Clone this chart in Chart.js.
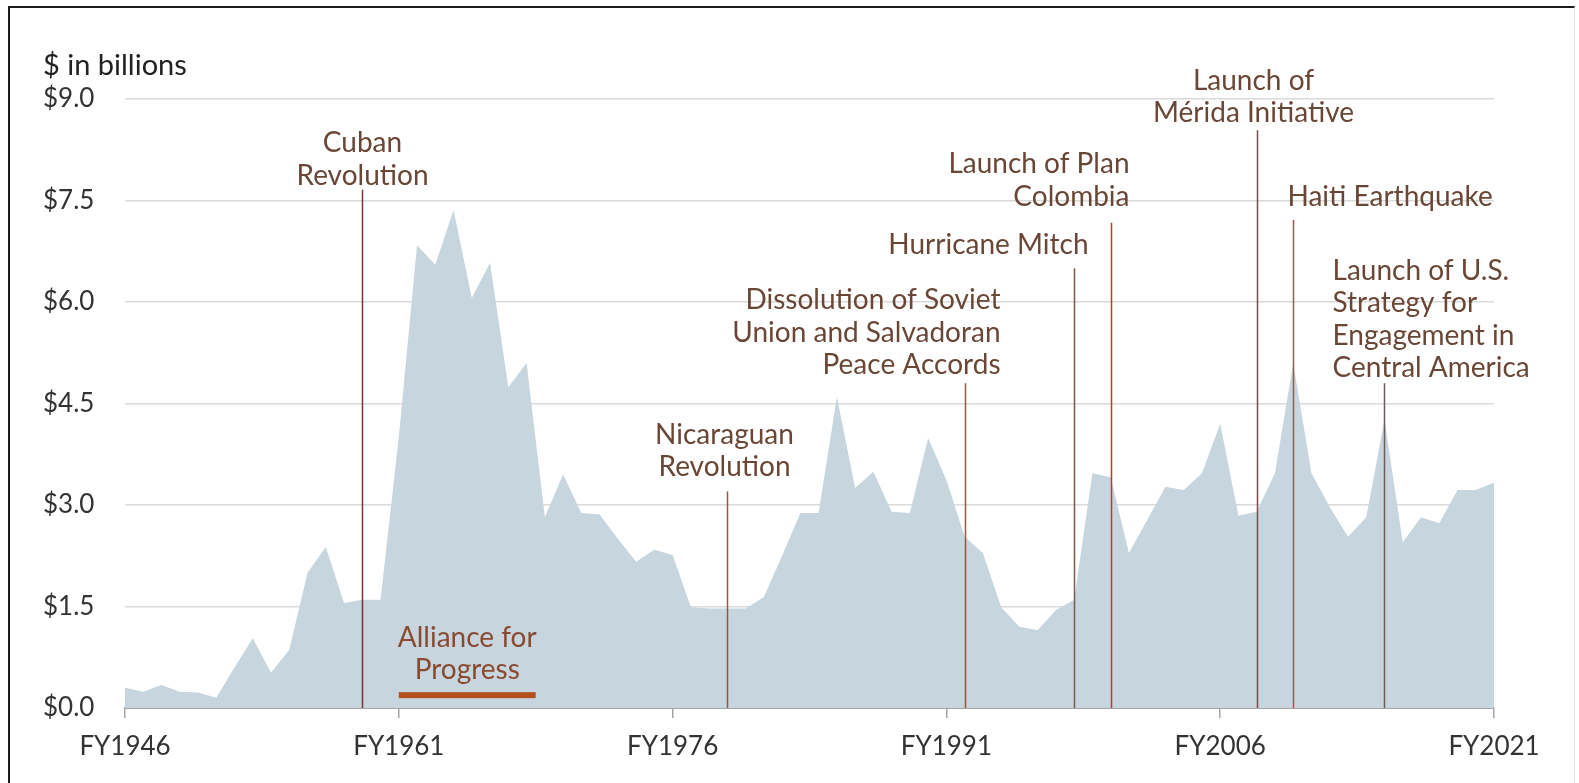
<!DOCTYPE html>
<html lang="en">

<head>
    <meta charset="UTF-8" />
    <title>Foreign assistance to Latin America</title>
    <script src="https://cdn.jsdelivr.net/npm/chart.js"></script>
    <style>
        body {
            margin: 0;
            padding: 0;
            background: #fff;
            font-family: "Lato", sans-serif;
        }

        .frame {
            position: absolute;
            left: 8px;
            top: 6px;
            width: 1564px;
            height: 775px;
            border-left: 2px solid #1c1c1c;
            border-top: 2px solid #1c1c1c;
            border-right: 1px solid #e2e2e2;
            border-bottom: 1px solid #e2e2e2;
        }

        .chart-container {
            position: absolute;
            left: 0;
            top: 0;
            width: 1579px;
            height: 783px;
        }
    </style>
</head>

<body>
    <div class="frame"></div>
    <div class="chart-container">
        <canvas id="myChart"></canvas>
    </div>

    <script>
        // fiscal years and assistance ($ billions)
        const years = [];
        for (let y = 1946; y <= 2021; y++) years.push(y);

        const aid = [
            0.30, 0.24, 0.34, 0.24, 0.23, 0.15, 0.60, 1.03, 0.52, 0.86, // 1946-1955
            2.00, 2.38, 1.55, 1.60, 1.60, 4.00, 6.84, 6.55, 7.36, 6.06, // 1956-1965
            6.58, 4.74, 5.10, 2.82, 3.45, 2.88, 2.86, 2.50, 2.16, 2.34, // 1966-1975
            2.26, 1.49, 1.47, 1.47, 1.47, 1.64, 2.25, 2.88, 2.88, 4.60, // 1976-1985
            3.25, 3.49, 2.90, 2.88, 3.99, 3.37, 2.53, 2.29, 1.49, 1.20, // 1986-1995
            1.15, 1.45, 1.60, 3.47, 3.41, 2.29, 2.78, 3.27, 3.22, 3.47, // 1996-2005
            4.20, 2.84, 2.90, 3.47, 5.10, 3.47, 2.97, 2.53, 2.82, 4.26, // 2006-2015
            2.45, 2.82, 2.73, 3.22, 3.22, 3.33                          // 2016-2021
        ];

        const labeledYears = [1946, 1961, 1976, 1991, 2006, 2021];
        const yTicks = [0, 1.5, 3, 4.5, 6, 7.5, 9];

        // events: year of the marker line, value where the line stops, label text
        const eventYears = [1959, 1979, 1992, 1998, 2000, 2008, 2010, 2015];
        const eventTops = [7.66, 3.2, 4.8, 6.5, 7.17, 8.54, 7.21, 4.8];
        const eventLabels = [
            ["Cuban", "Revolution"],
            ["Nicaraguan", "Revolution"],
            ["Dissolution of Soviet", "Union and Salvadoran", "Peace Accords"],
            ["Hurricane Mitch"],
            ["Launch of Plan", "Colombia"],
            ["Launch of", "Mérida Initiative"],
            ["Haiti Earthquake"],
            ["Launch of U.S.", "Strategy for", "Engagement in", "Central America"]
        ];

        // Alliance for Progress span
        const allianceSpan = [1961, 1968.5];
        const allianceLevel = 0.19;
        const allianceLabel = ["Alliance for", "Progress"];

        // how each event label sits next to its line (style only)
        const eventStyle = [
            { color: "#7b3438", align: "center", dx: 0, gap: 14 },
            { color: "#96583a", align: "center", dx: -3, gap: 24 },
            { color: "#96583a", align: "right", dx: 35, gap: 18 },
            { color: "#7d5a4c", align: "right", dx: 14, gap: 23 },
            { color: "#c0392b", align: "right", dx: 18, gap: 26 },
            { color: "#7e4a4c", align: "center", dx: -4, gap: 17 },
            { color: "#c4454f", align: "left", dx: -6, gap: 23 },
            { color: "#6d5c58", align: "left", dx: -52, gap: 15 }
        ];

        const FONT = "Lato";
        const textColor = "#6a4636";
        const lineGap = 32.5;

        const eventPlugin = {
            id: "events",
            afterDatasetsDraw(chart) {
                const { ctx, scales: { x, y } } = chart;
                const base = y.getPixelForValue(0);
                ctx.save();
                ctx.font = "28px " + FONT;
                ctx.textBaseline = "middle";

                eventYears.forEach((yr, i) => {
                    const st = eventStyle[i];
                    const px = Math.round(x.getPixelForValue(yr - years[0])) + 0.5;
                    const top = y.getPixelForValue(eventTops[i]);
                    ctx.strokeStyle = st.color;
                    ctx.lineWidth = 1.5;
                    ctx.beginPath();
                    ctx.moveTo(px, base);
                    ctx.lineTo(px, top);
                    ctx.stroke();

                    const lines = eventLabels[i];
                    ctx.fillStyle = textColor;
                    ctx.textAlign = st.align;
                    lines.forEach((t, j) => {
                        const ty = top - st.gap - (lines.length - 1 - j) * lineGap;
                        ctx.fillText(t, px + st.dx, ty);
                    });
                });

                // alliance for progress bar
                const x0 = x.getPixelForValue(allianceSpan[0] - years[0]);
                const x1 = x.getPixelForValue(allianceSpan[1] - years[0]);
                const by = y.getPixelForValue(allianceLevel);
                ctx.fillStyle = "#b4501f";
                ctx.fillRect(x0, by - 3, x1 - x0, 6);
                ctx.fillStyle = "#8a4a30";
                ctx.textAlign = "center";
                allianceLabel.forEach((t, j) => {
                    ctx.fillText(t, (x0 + x1) / 2, by - 25 - (allianceLabel.length - 1 - j) * lineGap);
                });

                // unit label above the y axis
                ctx.fillStyle = "#222";
                ctx.textAlign = "left";
                ctx.font = "29px " + FONT;
                ctx.fillText("$ in billions", chart.scales.y.left, y.getPixelForValue(9) - 33);
                ctx.restore();
            }
        };

        const ctx = document.getElementById("myChart").getContext("2d");
        const myChart = new Chart(ctx, {
            type: "line",
            data: {
                labels: years.map((y) => "FY" + y),
                datasets: [
                    {
                        data: aid,
                        fill: "origin",
                        backgroundColor: "#c6d5de",
                        borderWidth: 0,
                        pointRadius: 0,
                        tension: 0,
                    },
                ],
            },
            options: {
                responsive: true,
                maintainAspectRatio: false,
                animation: false,
                layout: {
                    padding: { left: 43, top: 99, right: 85, bottom: 0 },
                },
                plugins: {
                    legend: { display: false },
                    tooltip: { enabled: false },
                },
                scales: {
                    x: {
                        afterBuildTicks: (axis) => {
                            axis.ticks = axis.ticks.filter((t) => labeledYears.includes(years[t.value]));
                        },
                        afterFit: (axis) => { axis.height = 75; },
                        ticks: {
                            autoSkip: false,
                            maxRotation: 0,
                            padding: 13,
                            color: "#333",
                            font: { family: FONT, size: 26 },
                        },
                        grid: {
                            drawOnChartArea: false,
                            tickLength: 10,
                            color: "#a6a6a6",
                            lineWidth: 1.5,
                        },
                        border: { color: "#a6a6a6", width: 2 },
                    },
                    y: {
                        min: 0,
                        max: 9,
                        afterBuildTicks: (axis) => {
                            axis.ticks = yTicks.map((v) => ({ value: v }));
                        },
                        afterFit: (axis) => { axis.width = 82; },
                        ticks: {
                            crossAlign: "far",
                            color: "#333",
                            font: { family: FONT, size: 26 },
                            callback: (v) => "$" + Number(v).toFixed(1),
                        },
                        grid: {
                            color: "#dadada",
                            lineWidth: 1.5,
                            drawTicks: false,
                        },
                        border: { display: false },
                    },
                },
            },
            plugins: [eventPlugin],
        });
    </script>
</body>

</html>
